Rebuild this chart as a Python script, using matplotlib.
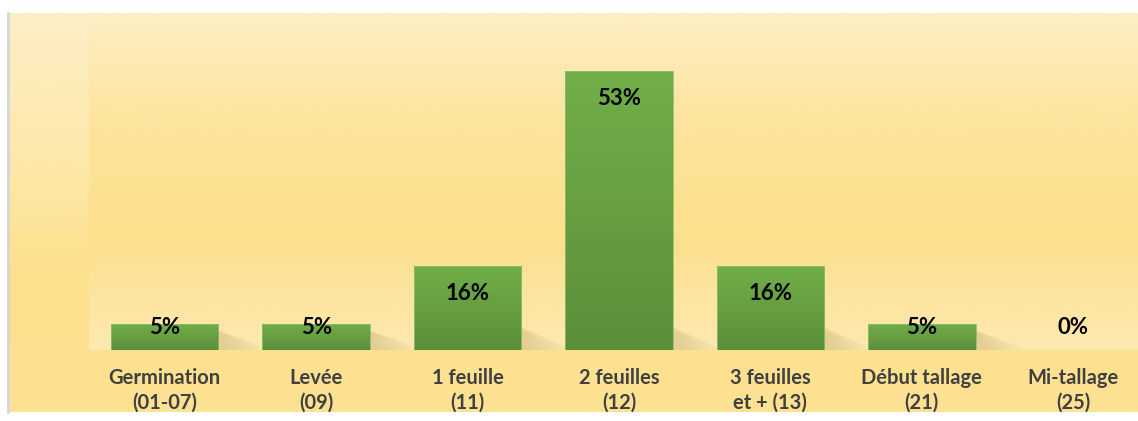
import numpy as np
import matplotlib
matplotlib.use('Agg')
import matplotlib.pyplot as plt
from matplotlib.colors import LinearSegmentedColormap

plt.rcParams.update({'font.family': ['Lato', 'DejaVu Sans'], 'font.weight': 'bold'})

stades = ['Germination\n(01-07)', 'Levée\n(09)', '1 feuille\n(11)', '2 feuilles\n(12)',
          '3 feuilles\net + (13)', 'Début tallage\n(21)', 'Mi-tallage\n(25)']
pct = [5, 5, 16, 53, 16, 5, 0]

W, H = 1138, 421
fig = plt.figure(figsize=(W / 100, H / 100), dpi=100)

# chart area background (light top -> warm bottom)
bg = fig.add_axes([8 / W, (H - 412) / H, (W - 8) / W, 399 / H], zorder=0)
bg_cmap = LinearSegmentedColormap.from_list('bg', ['#fde293', '#fde08c', '#fde9ae', '#fdeec4'])
bg.imshow(np.linspace(0, 1, 256)[:, None], aspect='auto', cmap=bg_cmap, origin='lower',
          extent=[0, 1, 0, 1])
bg.set_axis_off()
fig.add_artist(plt.Line2D([7.5 / W, 7.5 / W], [(H - 412) / H, (H - 13) / H],
                          color='#d6d6d6', lw=2))

# plot area
x0, x1, ytop, ybase = 89, 1149, 13, 350
ax = fig.add_axes([x0 / W, (H - ybase) / H, (x1 - x0) / W, (ybase - ytop) / H], zorder=1)
ymax = (ybase - ytop) / (279 / 53)
pa_cmap = LinearSegmentedColormap.from_list('pa', ['#fde9b0', '#fde08c', '#fde49c', '#fdeec4'])
ax.imshow(np.linspace(0, 1, 256)[:, None], aspect='auto', cmap=pa_cmap, origin='lower',
          extent=[-0.5, len(pct) - 0.5, 0, ymax], zorder=0)

# soft shadows to the right of the bars
for i, v in enumerate(pct):
    if v <= 0:
        continue
    for k in range(8):
        ax.add_patch(plt.Polygon([(i + 0.3, 0), (i + 0.3, min(v, 6) * 0.85),
                                  (i + 0.62 - k * 0.035, 1.0 + k * 0.3), (i + 0.68 - k * 0.035, 0)],
                                 closed=True, facecolor='#a08c5c', alpha=0.035, lw=0, zorder=1))

green = LinearSegmentedColormap.from_list('g', ['#5c8f3a', '#71ae48'])
bars = ax.bar(range(len(pct)), pct, width=0.71, color='none', edgecolor='#8cc063', lw=0.6, zorder=3)
for b in bars:
    if b.get_height() <= 0:
        continue
    im = ax.imshow(np.linspace(0, 1, 64)[:, None], aspect='auto', cmap=green, origin='lower',
                   extent=[b.get_x(), b.get_x() + b.get_width(), 0, b.get_height()], zorder=2)
    im.set_clip_path(b)

for i, v in enumerate(pct):
    ax.text(i, max(v - 5.3, 4.2), f'{v}%', ha='center', va='center', fontsize=16,
            color='black', fontweight='bold', zorder=4)
    ax.text(i, -7.7, stades[i], ha='center', va='center', fontsize=14.5, color='#404040',
            fontweight='bold', linespacing=1.3, clip_on=False)

ax.set_xlim(-0.5, len(pct) - 0.5)
ax.set_ylim(0, ymax)
ax.set_axis_off()

fig.savefig('out.png', dpi=100, facecolor='white')
